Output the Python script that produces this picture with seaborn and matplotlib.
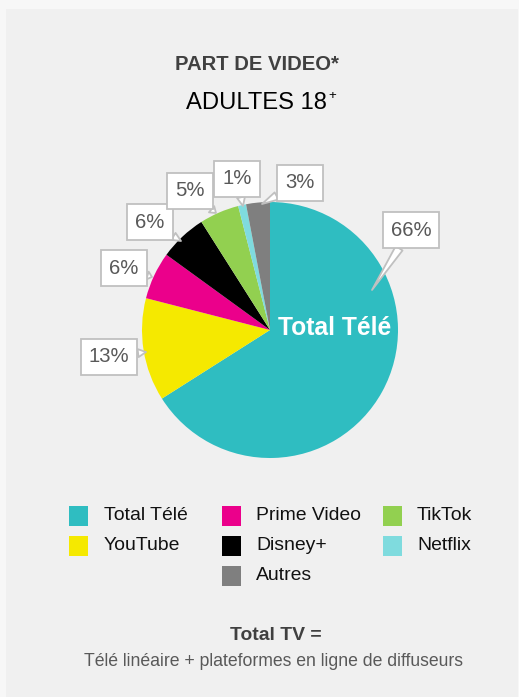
import matplotlib
matplotlib.use("Agg")
import matplotlib.pyplot as plt
import seaborn as sns
from matplotlib import font_manager
from matplotlib.patches import Rectangle

# ---------------- data ----------------
categories = ["Total Télé", "YouTube", "Prime Video", "Disney+", "TikTok", "Netflix", "Autres"]
shares = [66, 13, 6, 6, 5, 1, 3]
colors = ["#2fbdc1", "#f5e900", "#eb008b", "#000000", "#92d050", "#7fdbde", "#7f7f7f"]
pct_labels = [f"{v}%" for v in shares]
title = "PART DE VIDEO*"
subtitle = "ADULTES 18"
footer_bold = "Total TV ="
footer_text = "Télé linéaire + plateformes en ligne de diffuseurs"

# ---------------- style ----------------
sns.set_theme(style="white")
names = {f.name for f in font_manager.fontManager.ttflist}
if "Liberation Sans Narrow" in names:
    FAM = ["Liberation Sans Narrow", "DejaVu Sans"]
    K = 1.0
else:
    FAM = ["Liberation Sans", "DejaVu Sans"]
    K = 0.88
plt.rcParams["font.family"] = FAM


def fs(px):
    return px * 0.72 * K


W, H = 519, 697
fig = plt.figure(figsize=(W / 100, H / 100), dpi=100, facecolor="#f7f7f7")
fig.add_artist(Rectangle((6 / W, 0), (518 - 6) / W, (H - 9) / H,
                         transform=fig.transFigure, fc="#f0f0f0", ec="none", zorder=0))
ax = fig.add_axes([0, 0, 1, 1])
ax.patch.set_alpha(0)

Y = lambda y: H - y  # pixel y (top-down) -> data y

pal = sns.color_palette(colors)
ax.pie(shares, colors=pal, startangle=90, counterclock=False,
       center=(270, Y(330)), radius=128, wedgeprops=dict(linewidth=0))
ax.set_aspect("auto")
ax.set_xlim(0, W)
ax.set_ylim(0, H)
ax.axis("off")

# callouts: (index, box center, pointer tip)
callouts = [
    (0, (411, 230), (372, 290)),
    (1, (109, 357), (146, 352)),
    (2, (124, 268), (152, 277)),
    (3, (150, 222), (181, 241)),
    (4, (190, 191), (216, 213)),
    (5, (237, 179), (243, 206)),
    (6, (300, 183), (262, 204)),
]
for i, (bx, by), (tx, ty) in callouts:
    ax.annotate(pct_labels[i], xy=(tx, Y(ty)), xytext=(bx, Y(by)),
                ha="center", va="center", fontsize=fs(23), color="#595959",
                bbox=dict(boxstyle="square,pad=0.4", fc="white", ec="#c0c0c0", lw=1.3),
                arrowprops=dict(arrowstyle="wedge,tail_width=0.4,shrink_factor=0.5",
                                fc="white", ec="#c0c0c0", lw=1.3, shrinkA=0, shrinkB=0))

ax.text(335, Y(328), categories[0], ha="center", va="center", color="white",
        fontsize=fs(28), fontweight="bold")

# titles
ax.text(257, Y(64), title, ha="center", va="center", color="#404040",
        fontsize=fs(23), fontweight="bold")
ax.text(327, Y(103), subtitle, ha="right", va="center", color="#000000", fontsize=fs(27))
ax.text(328, Y(96), "+", ha="left", va="center", color="#000000", fontsize=fs(15))

# legend (manual 3-column layout)
col_marker_x = [69, 222, 383]
col_text_x = [104, 256, 417]
row_y = [516, 546, 576]
legend_layout = [(0, 0, 0), (1, 0, 1), (2, 1, 0), (3, 1, 1), (6, 1, 2), (4, 2, 0), (5, 2, 1)]
for i, c, r in legend_layout:
    ax.add_patch(Rectangle((col_marker_x[c], Y(row_y[r]) - 10), 19, 20,
                           fc=colors[i], ec="none"))
    ax.text(col_text_x[c], Y(row_y[r]), categories[i], ha="left", va="center",
            color="#111111", fontsize=fs(22))

# footer
ax.text(276, Y(635), footer_bold, ha="center", va="center", color="#404040",
        fontsize=fs(22), fontweight="bold")
ax.text(274, Y(662), footer_text, ha="center", va="center", color="#595959",
        fontsize=fs(20))

fig.savefig("out.png", dpi=100, facecolor=fig.get_facecolor())
